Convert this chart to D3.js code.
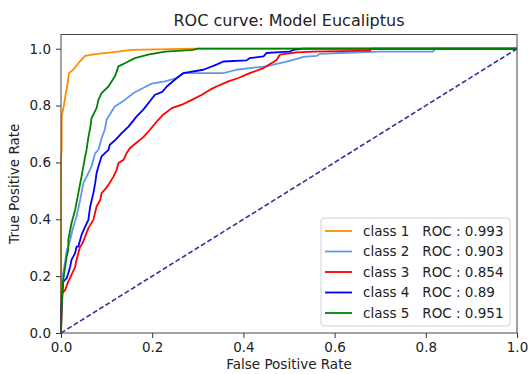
<!DOCTYPE html>
<html>
<head>
<meta charset="utf-8">
<script src="https://cdn.jsdelivr.net/npm/d3@7"></script>
<style>
  body { margin: 0; background: #fff; }
  text { font-family: "DejaVu Sans", sans-serif; fill: #222; }
</style>
</head>
<body>
<svg id="chart" width="528" height="374"></svg>
<script>
// ROC points [fpr, tpr]
const class1 = [[0,0],[0,0.62],[0.0015,0.644],[0.0015,0.762],[0.0066,0.803],[0.010,0.838],[0.0146,0.879],[0.0175,0.914],[0.027,0.926],[0.038,0.949],[0.053,0.975],[0.075,0.981],[0.111,0.987],[0.155,0.996],[0.29,1],[1,1]];
const class2 = [[0,0],[0.001,0.116],[0.004,0.204],[0.009,0.25],[0.0125,0.292],[0.016,0.304],[0.020,0.327],[0.027,0.374],[0.034,0.410],[0.042,0.468],[0.049,0.527],[0.060,0.562],[0.067,0.586],[0.075,0.633],[0.082,0.644],[0.089,0.685],[0.096,0.715],[0.100,0.750],[0.111,0.779],[0.118,0.797],[0.140,0.820],[0.159,0.844],[0.180,0.862],[0.199,0.877],[0.228,0.885],[0.254,0.897],[0.268,0.914],[0.356,0.914],[0.385,0.926],[0.414,0.932],[0.451,0.938],[0.466,0.944],[0.495,0.955],[0.517,0.964],[0.531,0.971],[0.561,0.975],[0.568,0.982],[0.612,0.985],[0.70,0.99],[0.816,0.99],[0.82,1],[1,1]];
const class3 = [[0,0],[0.0015,0.070],[0.003,0.140],[0.009,0.151],[0.016,0.181],[0.023,0.204],[0.031,0.233],[0.034,0.257],[0.038,0.281],[0.042,0.304],[0.046,0.312],[0.053,0.339],[0.060,0.369],[0.071,0.398],[0.078,0.445],[0.086,0.468],[0.089,0.492],[0.096,0.504],[0.104,0.521],[0.115,0.550],[0.122,0.574],[0.126,0.598],[0.137,0.609],[0.144,0.633],[0.151,0.650],[0.162,0.665],[0.180,0.688],[0.195,0.715],[0.210,0.744],[0.224,0.768],[0.243,0.791],[0.265,0.803],[0.287,0.820],[0.309,0.838],[0.327,0.856],[0.341,0.867],[0.367,0.885],[0.389,0.897],[0.414,0.914],[0.444,0.932],[0.466,0.953],[0.473,0.961],[0.480,0.979],[0.517,0.987],[0.553,0.990],[0.678,0.993],[0.68,1],[1,1]];
const class4 = [[0,0],[0,0.057],[0.0015,0.116],[0.005,0.181],[0.0125,0.193],[0.016,0.210],[0.020,0.233],[0.023,0.257],[0.031,0.281],[0.034,0.304],[0.038,0.304],[0.045,0.345],[0.053,0.374],[0.060,0.398],[0.064,0.445],[0.071,0.492],[0.075,0.527],[0.078,0.562],[0.082,0.586],[0.089,0.621],[0.104,0.644],[0.107,0.662],[0.120,0.680],[0.133,0.703],[0.148,0.726],[0.166,0.762],[0.180,0.785],[0.195,0.815],[0.206,0.838],[0.222,0.848],[0.232,0.867],[0.254,0.897],[0.268,0.914],[0.312,0.926],[0.341,0.944],[0.356,0.955],[0.407,0.959],[0.414,0.967],[0.444,0.973],[0.451,0.985],[0.480,0.988],[0.502,0.99],[0.51,0.996],[0.53,1],[1,1]];
const class5 = [[0,0],[0.0015,0.093],[0.005,0.187],[0.009,0.233],[0.0125,0.269],[0.016,0.292],[0.016,0.327],[0.023,0.386],[0.031,0.433],[0.038,0.492],[0.045,0.550],[0.053,0.621],[0.056,0.644],[0.060,0.688],[0.064,0.721],[0.067,0.756],[0.078,0.791],[0.082,0.820],[0.089,0.844],[0.104,0.867],[0.118,0.902],[0.126,0.938],[0.140,0.949],[0.162,0.967],[0.191,0.979],[0.228,0.99],[0.29,0.996],[0.30,1],[1,1]];
const diagonal = [[0,0],[1,1]];

const classNames = ['class 1', 'class 2', 'class 3', 'class 4', 'class 5'];
const aucLabels = ['0.993', '0.903', '0.854', '0.89', '0.951'];
const colors = ['darkorange', 'cornflowerblue', 'red', 'blue', 'green'];
const ticks = [0, 0.2, 0.4, 0.6, 0.8, 1.0];

const series = [class1, class2, class3, class4, class5];

const width = 528, height = 374;
const margin = {top: 34.5, right: 11, bottom: 41, left: 61};
const w = width - margin.left - margin.right;
const h = height - margin.top - margin.bottom;

const svg = d3.select('#chart');
const main = svg.append('g').attr('transform', `translate(${margin.left},${margin.top})`);

const xScale = d3.scaleLinear().domain([0, 1]).range([0, w]);
const yScale = d3.scaleLinear().domain([0, 1.05]).range([h, 0]);

const line = d3.line()
  .x(d => xScale(d[0]))
  .y(d => yScale(d[1]));

// curves
series.forEach((s, i) => {
  main.append('path')
    .datum(s)
    .attr('fill', 'none')
    .attr('stroke', colors[i])
    .attr('stroke-width', 1.8)
    .attr('stroke-linejoin', 'round')
    .attr('d', line);
});

main.append('path')
  .datum(diagonal)
  .attr('fill', 'none')
  .attr('stroke', '#32329a')
  .attr('stroke-width', 1.6)
  .attr('stroke-dasharray', '5,2.5')
  .attr('d', line);

// axes
const fmt = d3.format('.1f');
const xAxis = main.append('g')
  .attr('transform', `translate(0,${h})`)
  .call(d3.axisBottom(xScale).tickValues(ticks).tickFormat(fmt).tickSize(5).tickPadding(4));
const yAxis = main.append('g')
  .call(d3.axisLeft(yScale).tickValues(ticks).tickFormat(fmt).tickSize(5).tickPadding(5));

[xAxis, yAxis].forEach(a => {
  a.select('.domain').remove();
  a.selectAll('line').attr('stroke', '#333');
  a.selectAll('text')
    .attr('fill', '#222')
    .style('font-family', '"DejaVu Sans", sans-serif')
    .style('font-size', '13.5px');
});

// frame
main.append('rect')
  .attr('width', w)
  .attr('height', h)
  .attr('fill', 'none')
  .attr('stroke', '#444')
  .attr('stroke-width', 1);

// legend
const legendRow = 20.5;
const legend = main.append('g')
  .attr('transform', `translate(${w - 7 - 189},${h - 7 - 108})`);

legend.append('rect')
  .attr('width', 189)
  .attr('height', 108)
  .attr('rx', 3)
  .attr('fill', 'rgba(255,255,255,0.85)')
  .attr('stroke', '#d0d0d0');

classNames.forEach((name, i) => {
  const row = legend.append('g')
    .attr('transform', `translate(0,${13 + i * legendRow})`);
  row.append('line')
    .attr('x1', 4).attr('x2', 31)
    .attr('stroke', colors[i])
    .attr('stroke-width', 1.8);
  row.append('text')
    .attr('x', 42)
    .attr('dy', '0.35em')
    .style('font-size', '13.5px')
    .style('white-space', 'pre')
    .text(`${name}   ROC : ${aucLabels[i]}`);
});

// titles
svg.append('text')
  .attr('x', margin.left + w / 2)
  .attr('y', 26)
  .attr('text-anchor', 'middle')
  .style('font-size', '16px')
  .text('ROC curve: Model Eucaliptus');

svg.append('text')
  .attr('x', margin.left + w / 2)
  .attr('y', 369)
  .attr('text-anchor', 'middle')
  .style('font-size', '13.5px')
  .text('False Positive Rate');

svg.append('text')
  .attr('transform', `translate(19,${margin.top + h / 2}) rotate(-90)`)
  .attr('text-anchor', 'middle')
  .style('font-size', '13.5px')
  .text('True Positive Rate');
</script>
</body>
</html>
